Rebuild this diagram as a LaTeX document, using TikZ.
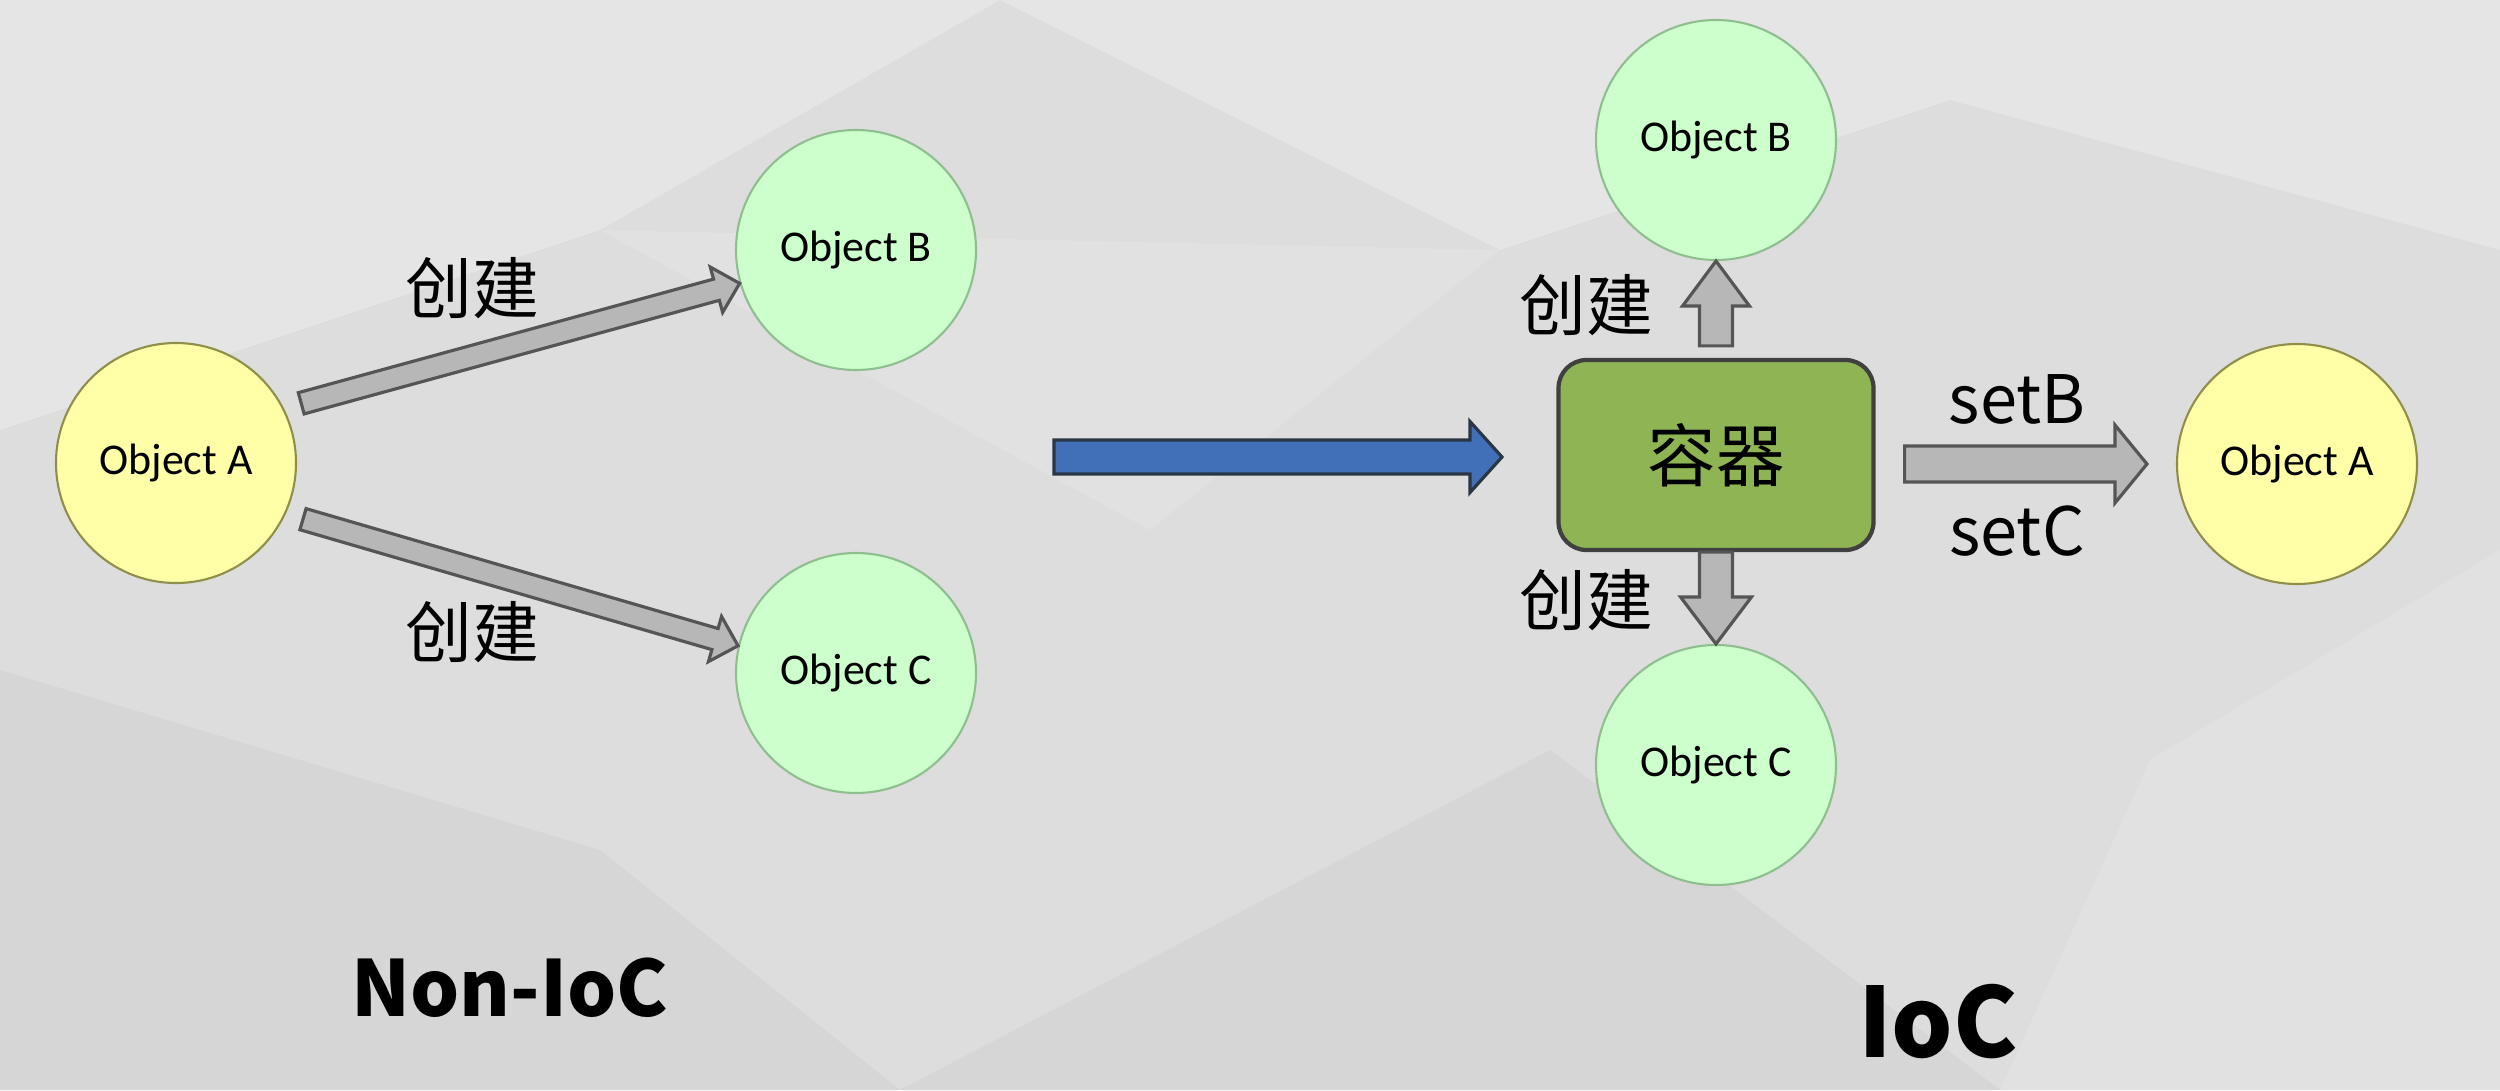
\documentclass[tikz,border=0pt]{standalone}
\usepackage{fontspec}
\setmainfont{Carlito}
\newfontfamily\cjk{Noto Sans CJK SC}
\usetikzlibrary{calc}

\definecolor{bgbase}{HTML}{DDDDDD}
\definecolor{bglight}{HTML}{E5E5E5}
\definecolor{bgmid}{HTML}{E1E1E1}
\definecolor{bgdark}{HTML}{D6D6D6}
\definecolor{yellowfill}{HTML}{FFFFA8}
\definecolor{yellowline}{HTML}{8F8F4A}
\definecolor{greenfill}{HTML}{CCFFCC}
\definecolor{greenline}{HTML}{8FBF8F}
\definecolor{boxfill}{HTML}{8EB454}
\definecolor{boxline}{HTML}{404040}
\definecolor{arrowfill}{HTML}{B7B7B7}
\definecolor{arrowline}{HTML}{555555}
\definecolor{bluefill}{HTML}{4170B8}
\definecolor{blueline}{HTML}{2B3645}

\tikzset{
  shaft width/.store in=\shaftw, shaft width=0.33cm,
  head width/.store in=\headw, head width=0.67cm,
  head length/.store in=\headl, head length=0.4cm,
  gap start/.store in=\gapa, gap start=0cm,
  gap end/.store in=\gapb, gap end=0cm,
  blockarrow/.style={draw=arrowline, fill=arrowfill, line width=0.9pt, line join=miter,
    to path={
      let \p1=($(\tikztostart)!\gapa!(\tikztotarget)$),
          \p2=($(\tikztotarget)!\gapb!(\tikztostart)$),
          \n1={atan2(\y2-\y1,\x2-\x1)},
          \n2={veclen(\x2-\x1,\y2-\y1)-\headl} in
      ($(\p1)+({\n1+90}:{0.5*\shaftw})$)
      -- ($(\p1)+(\n1:\n2)+({\n1+90}:{0.5*\shaftw})$)
      -- ($(\p1)+(\n1:\n2)+({\n1+90}:{0.5*\headw})$)
      -- (\p2)
      -- ($(\p1)+(\n1:\n2)+({\n1-90}:{0.5*\headw})$)
      -- ($(\p1)+(\n1:\n2)+({\n1-90}:{0.5*\shaftw})$)
      -- ($(\p1)+({\n1-90}:{0.5*\shaftw})$) -- cycle
    }}
}

\begin{document}
\begin{tikzpicture}[
    obj/.style={circle, minimum size=2.4cm, inner sep=0pt, line width=0.6pt,
      font=\fontsize{12.5}{15}\selectfont},
    objA/.style={obj, draw=yellowline, fill=yellowfill},
    objBC/.style={obj, draw=greenline, fill=greenfill},
    lbl/.style={font=\cjk\fontsize{19}{23}\selectfont},
    title/.style={font=\cjk\bfseries\fontsize{22}{26}\selectfont},
  ]
  % background
  \fill[bgbase] (0,0) rectangle (25,10.9);
  \fill[bglight] (0,10.9) -- (10,10.9) -- (6,8.6) -- (0,6.6) -- cycle;
  \fill[bglight] (10,10.9) -- (25,10.9) -- (25,8.4) -- (19.5,9.9) -- (15,8.4) -- cycle;
  \fill[bgmid] (6,8.6) -- (15,8.4) -- (11.5,5.6) -- cycle;
  \fill[bgdark] (0,0) -- (0,4.2) -- (6,2.4) -- (9,0) -- cycle;
  \fill[bgdark] (9,0) -- (20,0) -- (15.5,3.4) -- cycle;
  \fill[bgmid] (20,0) -- (25,0) -- (25,5.4) -- (21.5,3.3) -- cycle;
  \useasboundingbox (0,0) rectangle (25,10.9);

  % Non-IoC
  \node[objA]  (A1) at (1.76,6.27) {Object A};
  \node[objBC] (B1) at (8.56,8.40) {Object B};
  \node[objBC] (C1) at (8.56,4.17) {Object C};

  \draw[blockarrow, shaft width=0.22cm, head width=0.47cm, head length=0.24cm,
        gap start=0.18cm] (A1.27) to (B1.196);
  \draw[blockarrow, shaft width=0.22cm, head width=0.47cm, head length=0.24cm,
        gap start=0.18cm] (A1.-25) to (C1.167);

  \node[lbl] (l1) at (4.72,8.02) {创建};
  \node[lbl] (l2) at (4.72,4.58) {创建};

  % IoC
  \coordinate (bstart) at (10.54,6.33);
  \coordinate (bend) at (15.02,6.33);
  \draw[blockarrow, draw=blueline, fill=bluefill, shaft width=0.34cm,
        head width=0.71cm, head length=0.32cm] (bstart) to (bend);

  \node[draw=boxline, fill=boxfill, line width=1.2pt, rounded corners=0.28cm,
        minimum width=3.15cm, minimum height=1.9cm,
        font=\cjk\fontsize{19.5}{23}\selectfont] (box) at (17.16,6.35) {容器};
  \node[objBC] (B2) at (17.16,9.50) {Object B};
  \node[objBC] (C2) at (17.16,3.25) {Object C};
  \node[objA]  (A2) at (22.97,6.26) {Object A};

  \draw[blockarrow, gap start=0.12cm, head length=0.45cm] (box.north) to (B2.south);
  \draw[blockarrow, head length=0.47cm, head width=0.71cm] (box.south) to (C2.north);
  \draw[blockarrow, shaft width=0.36cm, head width=0.78cm, head length=0.32cm,
        gap start=0.29cm, gap end=0.29cm] (box.east |- A2.west) to (A2.west);

  \node[lbl] (l3) at (15.86,7.85) {创建};
  \node[lbl] (l4) at (15.86,4.90) {创建};
  \node[lbl] (setb) at (20.17,6.91) {setB};
  \node[lbl] (setc) at (20.17,5.59) {setC};

  \node[title] (non) at (5.10,1.02) {Non-IoC};
  \node[title, font=\cjk\bfseries\fontsize{27.5}{32}\selectfont] (ioc) at (19.38,0.68) {IoC};
\end{tikzpicture}
\end{document}
